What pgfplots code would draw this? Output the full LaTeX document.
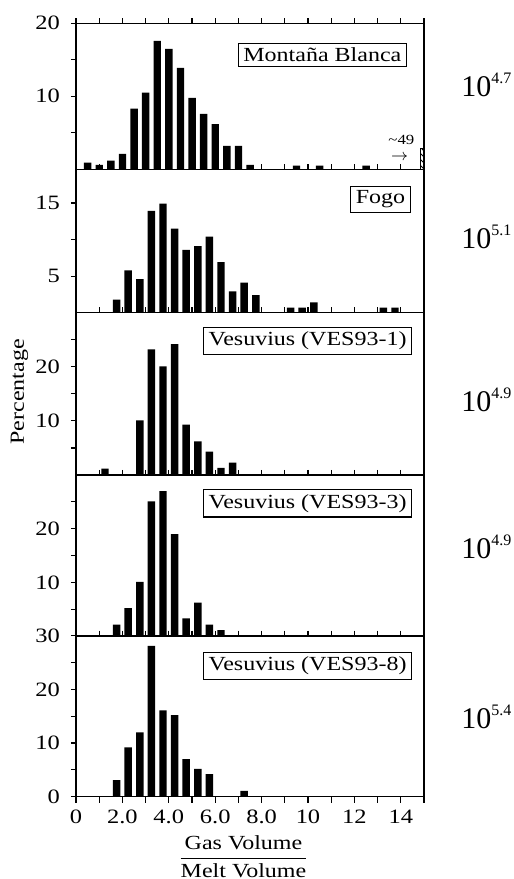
\documentclass[border=0pt]{standalone}
\usepackage{pgfplots}
\pgfplotsset{compat=1.18}
\usepackage{amsmath}
\usepackage{fontspec}
\setmainfont{Liberation Serif}[FakeStretch=1.2]
\newfontfamily\plainserif{Liberation Serif}
\usetikzlibrary{patterns}

\pgfplotsset{
  panel/.style={
    scale only axis, width=174pt, xmin=0, xmax=15, ymin=0,
    anchor=south west,
    axis line style={line width=0.7pt},
    tick align=inside, major tick length=2.6pt,
    tick style={black, line width=0.6pt},
    xtick={0,...,15}, xtick pos=top, xticklabels={},
    ytick pos=left,
    y tick style={xshift=-2.6pt},
    yticklabel style={font=\fontsize{10.2}{12}\selectfont, xshift=-4.5pt},
    /pgf/number format/assume math mode=true,
    ybar, bar width=0.32,
  },
  bars/.style={fill=black, draw=none},
}
\tikzset{
  lab/.style={draw, line width=0.6pt, fill=white, inner xsep=2.5pt, inner ysep=2.3pt,
    anchor=north east, font=\fontsize{10}{12}\selectfont},
  ann/.style={anchor=base west, inner sep=0pt, font=\plainserif\fontsize{15}{17}\selectfont},
}
\newcommand{\ann}[1]{10\raisebox{6.6pt}{\plainserif\fontsize{8}{9}\selectfont #1}}

\begin{document}
\begin{tikzpicture}
\useasboundingbox (0,0) rectangle (257pt,439.5pt);

% Panel 1: Montana Blanca
\begin{axis}[panel, at={(38pt,354.85pt)}, height=73pt, ymax=20,
  ytick={5,10,15,20}, yticklabels={,10,,20}]
\addplot[bars] coordinates {(0.75,0.9)(1.25,0.6)(1.75,1.2)(2.25,2.1)(2.75,8.3)(3.25,10.5)(3.75,17.6)(4.25,16.5)(4.75,13.9)(5.25,9.8)(5.75,7.6)(6.25,6.2)(6.75,3.2)(7.25,3.2)(7.75,0.6)(9.75,0.5)(10.75,0.5)(12.75,0.5)};
\addplot[draw=black, line width=0.5pt, pattern=north west lines] coordinates {(14.75,2.8)};
\node[lab] at (rel axis cs:0.951,0.867) {Montaña Blanca};
\node[anchor=base east, font=\fontsize{7}{8}\selectfont, inner sep=0pt] at (axis cs:14.6,3.4) {\textasciitilde 49};
\node[font=\fontsize{8}{9}\selectfont, inner sep=0pt] at (axis cs:13.95,1.6) {$\rightarrow$};
\end{axis}

% Panel 2: Fogo
\begin{axis}[panel, at={(38pt,283.15pt)}, height=71.7pt, ymax=19.6,
  ytick={5,10,15}, yticklabels={5,,15}]
\addplot[bars] coordinates {(1.75,1.8)(2.25,5.8)(2.75,4.6)(3.25,13.9)(3.75,14.9)(4.25,11.5)(4.75,8.6)(5.25,9.1)(5.75,10.4)(6.25,6.9)(6.75,2.9)(7.25,4.1)(7.75,2.4)(9.25,0.7)(9.75,0.7)(10.25,1.4)(13.25,0.7)(13.75,0.7)};
\node[lab] at (rel axis cs:0.962,0.886) {Fogo};
\end{axis}

% Panel 3: VES93-1
\begin{axis}[panel, at={(38pt,202pt)}, height=81.15pt, ymax=30,
  ytick={5,10,15,20,25}, yticklabels={,10,,20,}]
\addplot[bars] coordinates {(1.25,1.2)(2.75,10.1)(3.25,23.2)(3.75,20.1)(4.25,24.2)(4.75,9.3)(5.25,6.2)(5.75,4.3)(6.25,1.3)(6.75,2.3)};
\node[lab] at (rel axis cs:0.966,0.914) {Vesuvius (VES93-1)};
\end{axis}

% Panel 4: VES93-3
\begin{axis}[panel, at={(38pt,121.5pt)}, height=80.5pt, ymax=30,
  ytick={5,10,15,20,25}, yticklabels={,10,,20,}]
\addplot[bars] coordinates {(1.75,2.1)(2.25,5.2)(2.75,10.1)(3.25,25.1)(3.75,27.0)(4.25,19.0)(4.75,3.3)(5.25,6.2)(5.75,2.1)(6.25,1.1)};
\node[lab] at (rel axis cs:0.966,0.913) {Vesuvius (VES93-3)};
\end{axis}

% Panel 5: VES93-8
\begin{axis}[panel, at={(38pt,41.15pt)}, height=80.5pt, ymax=30,
  ytick={0,5,10,15,20,25,30}, yticklabels={0,,10,,20,,30}]
\addplot[bars] coordinates {(1.75,3.1)(2.25,9.2)(2.75,12.0)(3.25,28.1)(3.75,16.1)(4.25,15.2)(4.75,7.0)(5.25,5.2)(5.75,4.2)(7.25,1.1)};
\node[lab] at (rel axis cs:0.966,0.90) {Vesuvius (VES93-8)};
\end{axis}

% bottom ticks and labels of panel 5
\begin{axis}[scale only axis, width=174pt, height=80.5pt, at={(38pt,41.15pt)}, anchor=south west,
  xmin=0, xmax=15, ymin=0, ymax=30, axis line style={draw=none},
  xtick={0,...,15}, xticklabels={0,,2.0,,4.0,,6.0,,8.0,,10,,12,,14,},
  xtick pos=bottom, tick align=outside, major tick length=3pt,
  tick style={black, line width=0.6pt},
  ytick=\empty,
  xticklabel style={font=\fontsize{10.2}{12}\selectfont},
  /pgf/number format/assume math mode=true]
\end{axis}

% axis titles
\node[rotate=90, font=\fontsize{10}{12}\selectfont] at (9.75pt,243.5pt) {Percentage};
\node[font=\fontsize{10}{12}\selectfont] at (121.75pt,11.15pt) {$\dfrac{\text{Gas Volume}}{\text{Melt Volume}}$};

% right annotations
\node[ann] at (230.5pt,391pt) {\ann{4.7}};
\node[ann] at (230.5pt,315pt) {\ann{5.1}};
\node[ann] at (230.5pt,233.65pt) {\ann{4.9}};
\node[ann] at (230.5pt,160pt) {\ann{4.9}};
\node[ann] at (230.5pt,75pt) {\ann{5.4}};
\end{tikzpicture}
\end{document}
